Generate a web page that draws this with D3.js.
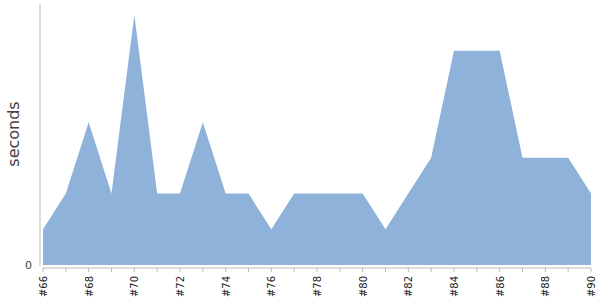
<!DOCTYPE html>
<html><head><meta charset="utf-8">
<script src="https://cdn.jsdelivr.net/npm/d3@7"></script>
<style>body{margin:0;background:#fff}svg{display:block}</style>
</head><body>
<svg id="c" width="600" height="300"></svg>
<script>
const builds = d3.range(66, 91);
const seconds = [1,2,4,2,7,2,2,4,2,2,1,2,2,2,2,1,2,3,6,6,6,3,3,3,2];
const tickLabels = builds.filter(b => b % 2 === 0).map(b => "#" + b);
const yTicks = [0];

const font = "'DejaVu Sans', Verdana, sans-serif";
const svg = d3.select("#c");
const x = d3.scaleLinear().domain([66, 90]).range([43, 591]);
const y = d3.scaleLinear().domain([0, 7]).range([265, 15]);

const data = builds.map((b, i) => ({b, v: seconds[i]}));
svg.append("path").datum(data)
  .attr("fill", "#8fb2da")
  .attr("d", d3.area().x(d => x(d.b)).y0(y(0)).y1(d => y(d.v)));

// y axis
const gy = svg.append("g").attr("transform", "translate(40,0)");
gy.append("line").attr("x1", 0).attr("x2", 0).attr("y1", 4).attr("y2", 266).attr("stroke", "#bbb");
gy.selectAll("text").data(yTicks).join("text")
  .attr("x", -8).attr("y", d => y(d)).attr("dy", "0.35em")
  .attr("text-anchor", "end").attr("fill", "#444")
  .style("font-family", font).attr("font-size", 11)
  .text(d => d);

// x axis
const gx = svg.append("g").attr("transform", "translate(0,268)");
gx.append("line").attr("x1", 43).attr("x2", 591).attr("stroke", "#bbb");
gx.selectAll("line.t").data(builds).join("line").attr("class", "t")
  .attr("x1", d => x(d)).attr("x2", d => x(d)).attr("y1", 0).attr("y2", 4).attr("stroke", "#bbb");
gx.selectAll("text").data(tickLabels).join("text")
  .attr("transform", d => `translate(${x(+d.slice(1)) + 4},8) rotate(-90)`)
  .attr("text-anchor", "end").attr("fill", "#222")
  .style("font-family", font).attr("font-size", 10)
  .text(d => d);

svg.append("text")
  .attr("transform", "translate(19,134) rotate(-90)")
  .attr("text-anchor", "middle").attr("fill", "#444")
  .style("font-family", font).attr("font-size", 16)
  .text("seconds");
</script>
</body></html>
